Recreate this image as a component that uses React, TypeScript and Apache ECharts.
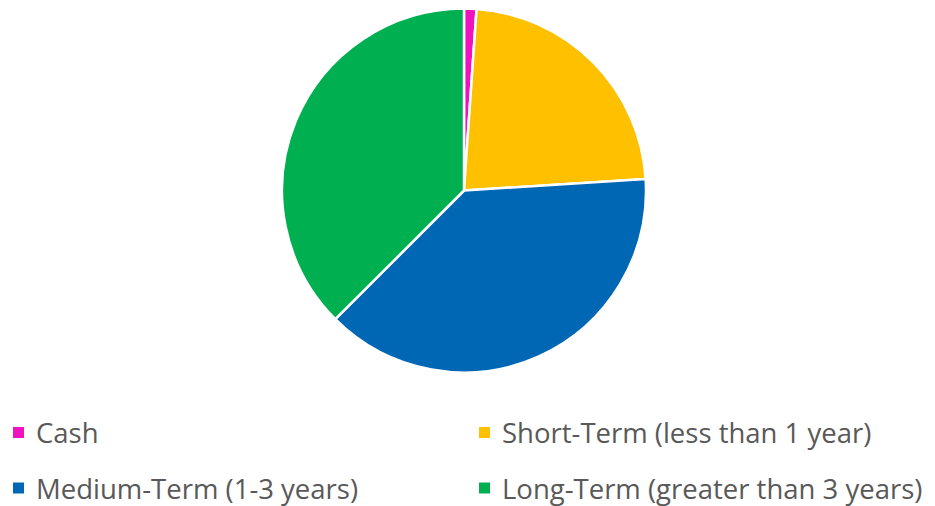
import React, { useEffect, useRef } from "react";
import * as echarts from "echarts";

const categories = [
  "Cash",
  "Short-Term (less than 1 year)",
  "Medium-Term (1-3 years)",
  "Long-Term (greater than 3 years)",
];
const values = [1.1, 22.9, 38.5, 37.5];
const colors = ["#F012BE", "#FFC000", "#0067B4", "#00B050"];

export default function App() {
  const ref = useRef<HTMLDivElement>(null);
  useEffect(() => {
    if (!ref.current) return;
    const chart = echarts.init(ref.current, undefined, { renderer: "svg" });
    const legendText = {
      fontFamily: "Open Sans",
      fontSize: 27.5,
      color: "#595959",
      lineHeight: 28,
      padding: [0, 0, 0, 6],
    };
    const pos = [
      { left: 11, top: 418.5 },
      { left: 477, top: 418.5 },
      { left: 11, top: 474 },
      { left: 477, top: 474 },
    ];
    chart.setOption({
      animation: false,
      backgroundColor: "#ffffff",
      color: colors,
      legend: categories.map((name, i) => ({
        data: [name],
        left: pos[i].left,
        top: pos[i].top,
        padding: 0,
        itemWidth: 13,
        itemHeight: 13,
        itemGap: 10,
        icon: "rect",
        textStyle: legendText,
        selectedMode: false,
      })),
      series: [
        {
          type: "pie",
          center: [464, 190.5],
          radius: [0, 182],
          startAngle: 90,
          clockwise: true,
          label: { show: false },
          labelLine: { show: false },
          itemStyle: { borderColor: "#ffffff", borderWidth: 2.5 },
          emphasis: { disabled: true },
          data: categories.map((name, i) => ({ name, value: values[i] })),
        },
      ],
    });
    return () => chart.dispose();
  }, []);
  return (
    <div
      ref={ref}
      style={{ position: "fixed", left: 0, top: 0, width: 935, height: 506 }}
    />
  );
}
